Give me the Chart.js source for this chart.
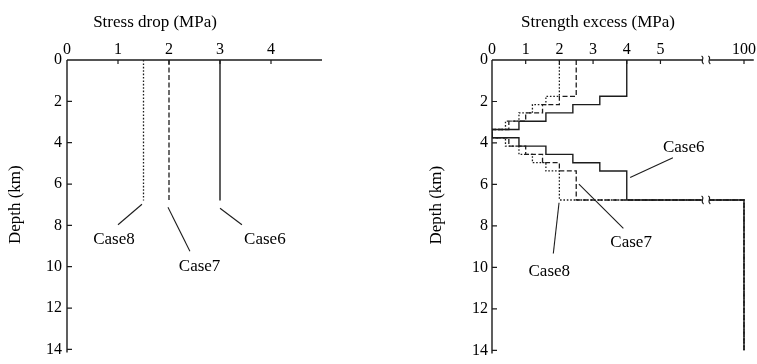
<!DOCTYPE html>
<html><head><meta charset="utf-8">
<script src="https://cdn.jsdelivr.net/npm/chart.js@4.4.1/dist/chart.umd.min.js"></script>
<style>
html,body{margin:0;padding:0;background:#fff;}
#wrap{position:relative;width:757px;height:364px;overflow:hidden;background:#fff;}
#c1{position:absolute;left:0;top:0;}
#c2{position:absolute;left:379px;top:0;}
</style></head><body>
<div id="wrap"><canvas id="c1" width="379" height="364"></canvas><canvas id="c2" width="378" height="364"></canvas></div>
<script>
// ---------------- data ----------------
const stressDropTicks = [0, 1, 2, 3, 4, 5];
const stressDropLabels = ['0', '1', '2', '3', '4', ''];
const excessTicks = [0, 1, 2, 3, 4, 5, 100];
const depthTicks = [0, 2, 4, 6, 8, 10, 12, 14];

// stress drop (left panel): constant values down to the asperity bottom
const dropDepths = [0, 6.8];
const dropCase6 = [3.0, 3.0];
const dropCase7 = [2.0, 2.0];
const dropCase8 = [1.5, 1.5];

// strength excess (right panel): layered step profiles
const layerEdges   = [0, 1.75, 2.15, 2.55, 2.95, 3.35, 3.75, 4.15, 4.55, 4.95, 5.35, 6.75, 14];
const excessCase6  = [4.0, 3.2, 2.4, 1.6, 0.8, 0, 0.8, 1.6, 2.4, 3.2, 4.0, 100];
const excessCase7  = [2.5, 2.0, 1.5, 1.0, 0.5, 0, 0.5, 1.0, 1.5, 2.0, 2.5, 100];
const excessCase8  = [2.0, 1.6, 1.2, 0.8, 0.4, 0, 0.4, 0.8, 1.2, 1.6, 2.0, 100];

// ---------------- styling / helpers ----------------
const FONT = '"Liberation Serif", "Times New Roman", serif';
const INK = '#1c1c1c';
const BRK = [6.25, 6.45];          // broken-axis gap (axis units)
const toAxis = v => (v > 50 ? v - 92.52 : v);   // 100 sits just beyond the break

function stepPoints(edges, values, mapX, brk) {
  const pts = [];
  for (let i = 0; i < values.length; i++) {
    const x = mapX(values[i]);
    if (brk && i > 0 && values[i] > 50 && values[i - 1] <= 50) {
      pts.push({x: brk[0], y: edges[i]});
      pts.push({x: (brk[0] + brk[1]) / 2, y: null});
      pts.push({x: brk[1], y: edges[i]});
    }
    pts.push({x: x, y: edges[i]});
    pts.push({x: x, y: edges[i + 1]});
  }
  return pts;
}
function linePoints(xs, ys) { return xs.map((x, i) => ({x: x, y: ys[i]})); }

const styles = {
  case6: {borderDash: [], borderWidth: 1.4},
  case7: {borderDash: [5, 2.5], borderWidth: 1.3},
  case8: {borderDash: [1.6, 1.8], borderWidth: 1.3}
};
function ds(points, st) {
  return Object.assign({data: points, showLine: true, pointRadius: 0, borderColor: INK,
    backgroundColor: INK, fill: false, spanGaps: false, borderCapStyle: 'butt'}, st);
}

function squiggle(ctx, x, y) {
  ctx.beginPath();
  ctx.moveTo(x - 1, y - 4);
  ctx.bezierCurveTo(x + 3, y - 2, x - 3, y + 1, x + 1, y + 4);
  ctx.stroke();
}

const framePlugin = {
  id: 'frame',
  afterDatasetsDraw(chart, args, opts) {
    const ctx = chart.ctx, xs = chart.scales.x, ys = chart.scales.y;
    const top = ys.getPixelForValue(0), bot = ys.getPixelForValue(14);
    const left = xs.getPixelForValue(0), right = xs.getPixelForValue(xs.max);
    ctx.save();
    ctx.strokeStyle = INK; ctx.lineWidth = 1.4; ctx.setLineDash([]);
    // axis lines
    ctx.beginPath();
    ctx.moveTo(left, top); ctx.lineTo(left, bot + 3);
    if (opts.brk) {
      ctx.moveTo(left, top); ctx.lineTo(xs.getPixelForValue(opts.brk[0]), top);
      ctx.moveTo(xs.getPixelForValue(opts.brk[1]), top); ctx.lineTo(right, top);
    } else {
      ctx.moveTo(left, top); ctx.lineTo(right, top);
    }
    ctx.stroke();
    // inward tick marks
    ctx.lineWidth = 1.2;
    ctx.beginPath();
    xs.ticks.forEach(t => { if (t.value > 0 && t.value < xs.max - 0.01 && (opts.brk || t.value < 5)) {
      const p = xs.getPixelForValue(t.value); ctx.moveTo(p, top); ctx.lineTo(p, top + 4); } });
    ys.ticks.forEach(t => { if (t.value > 0) {
      const p = ys.getPixelForValue(t.value); ctx.moveTo(left, p); ctx.lineTo(left + 5, p); } });
    ctx.stroke();
    // break marks
    if (opts.brk) {
      ctx.lineWidth = 1.1;
      (opts.brkDepths || []).forEach(d => {
        const py = ys.getPixelForValue(d);
        squiggle(ctx, xs.getPixelForValue(opts.brk[0]), py);
        squiggle(ctx, xs.getPixelForValue(opts.brk[1]), py);
      });
    }
    // title above the axis
    ctx.fillStyle = '#000';
    ctx.font = '17px ' + FONT;
    ctx.textAlign = 'center'; ctx.textBaseline = 'alphabetic';
    ctx.fillText(opts.title, opts.titleX, opts.titleY);
    // case annotations with leader lines
    ctx.lineWidth = 1.1;
    (opts.notes || []).forEach(n => {
      ctx.beginPath();
      ctx.moveTo(xs.getPixelForValue(n.line[0]), ys.getPixelForValue(n.line[1]));
      ctx.lineTo(xs.getPixelForValue(n.line[2]), ys.getPixelForValue(n.line[3]));
      ctx.stroke();
      ctx.fillText(n.text, xs.getPixelForValue(n.x), ys.getPixelForValue(n.y));
    });
    ctx.restore();
  }
};

function baseScales(xTicks, xLabels, xMax, yWidth, yTitlePad, yLabelPad) {
  const tickFont = {family: FONT, size: 16};
  return {
    x: {type: 'linear', position: 'top', min: 0, max: xMax,
        afterBuildTicks: s => { s.ticks = xTicks.map(v => ({value: v})); },
        afterFit: s => { s.height = 60; },
        grid: {display: false, drawTicks: false}, border: {display: false},
        ticks: {padding: 1, font: tickFont, color: '#000', maxRotation: 0, autoSkip: false,
                callback: (v, i) => xLabels[i]}},
    y: {type: 'linear', reverse: true, min: 0, max: 14,
        afterBuildTicks: s => { s.ticks = depthTicks.map(v => ({value: v})); },
        afterFit: s => { s.width = yWidth; },
        grid: {display: false, drawTicks: false}, border: {display: false},
        title: {display: true, text: 'Depth (km)', color: '#000', font: {family: FONT, size: 17},
                padding: {top: yTitlePad, bottom: 0}},
        ticks: {padding: yLabelPad, font: tickFont, color: '#000', autoSkip: false,
                callback: v => String(v)}}
  };
}

Chart.defaults.font.family = FONT;

// ---------------- left panel: stress drop ----------------
new Chart(document.getElementById('c1'), {
  type: 'scatter',
  data: {datasets: [
    ds(linePoints(dropCase6, dropDepths), styles.case6),
    ds(linePoints(dropCase7, dropDepths), styles.case7),
    ds(linePoints(dropCase8, dropDepths), styles.case8)
  ]},
  options: {
    responsive: false, animation: false, events: [],
    layout: {padding: {left: 0, top: 0, right: 57, bottom: 9}},
    plugins: {legend: {display: false}, tooltip: {enabled: false},
      frame: {title: 'Stress drop (MPa)', titleX: 155, titleY: 27,
        notes: [
          {text: 'Case8', x: 0.92, y: 8.91, line: [1.47, 6.98, 1.0, 7.97]},
          {text: 'Case7', x: 2.6, y: 10.22, line: [1.98, 7.12, 2.41, 9.25]},
          {text: 'Case6', x: 3.88, y: 8.91, line: [3.0, 7.17, 3.43, 7.97]}
        ]}},
    scales: baseScales(stressDropTicks, stressDropLabels, 5, 67, 5.8, 5)
  },
  plugins: [framePlugin]
});

// ---------------- right panel: strength excess ----------------
new Chart(document.getElementById('c2'), {
  type: 'scatter',
  data: {datasets: [
    ds(stepPoints(layerEdges, excessCase6, toAxis, BRK), styles.case6),
    ds(stepPoints(layerEdges, excessCase7, toAxis, BRK), styles.case7),
    ds(stepPoints(layerEdges, excessCase8, toAxis, BRK), styles.case8)
  ]},
  options: {
    responsive: false, animation: false, events: [],
    layout: {padding: {left: 0, top: 0, right: 0, bottom: 9}},
    plugins: {legend: {display: false}, tooltip: {enabled: false},
      frame: {title: 'Strength excess (MPa)', titleX: 219, titleY: 27, brk: BRK, brkDepths: [0, 6.75],
        notes: [
          {text: 'Case6', x: 5.69, y: 4.45, line: [4.1, 5.66, 5.37, 4.71]},
          {text: 'Case7', x: 4.13, y: 9.02, line: [2.58, 5.98, 3.9, 8.12]},
          {text: 'Case8', x: 1.70, y: 10.41, line: [1.99, 6.88, 1.82, 9.33]}
        ]}},
    scales: baseScales(excessTicks.map(toAxis), excessTicks.map(String), 7.77, 113, 47.8, 4)
  },
  plugins: [framePlugin]
});
</script>
</body></html>
